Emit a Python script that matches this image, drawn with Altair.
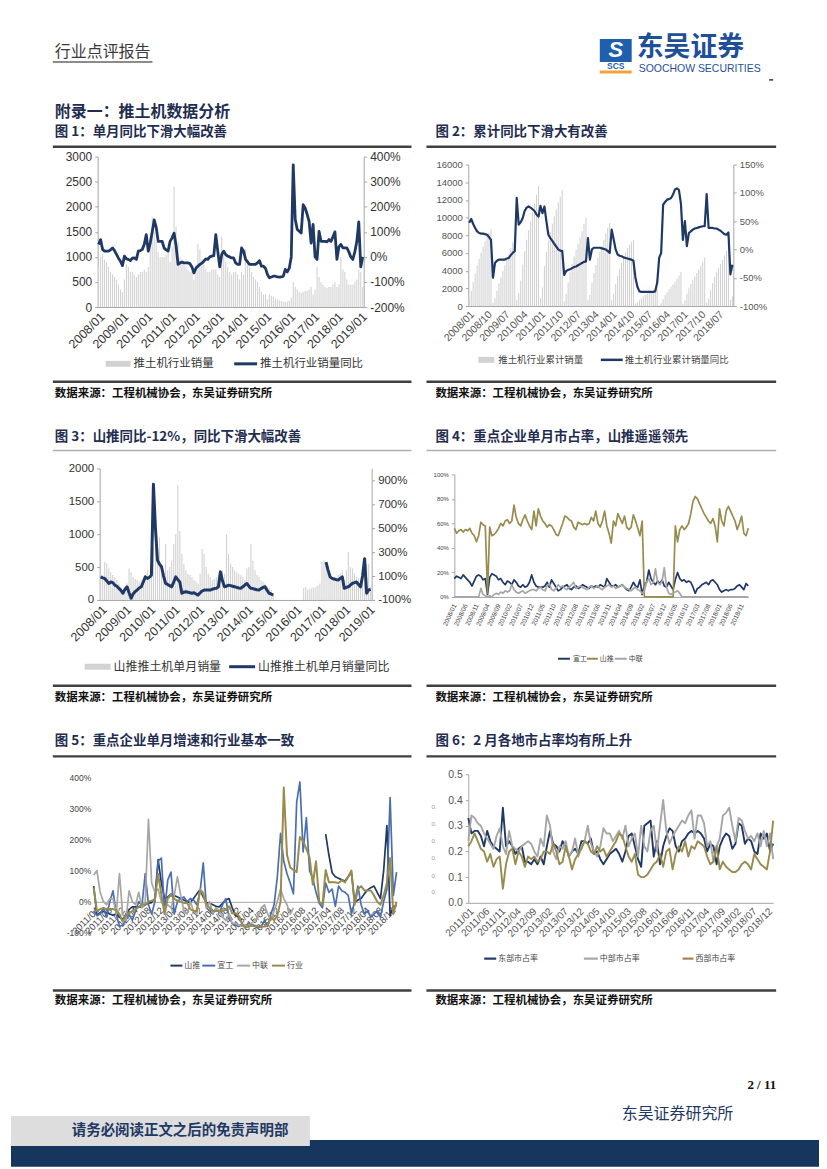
import altair as alt
import pandas as pd

CJK = "Noto Sans CJK SC"
LAT = "Liberation Sans"
NAVY = "#1f3864"
TITLE_C = "#1f2d50"
BAR_G = "#d2d2d2"
LINE_G = "#a6a6a6"
OLIVE = "#988b4d"
BLUE = "#4a6fae"
AX = "#a6a6a6"


def mrange(y0, m0, y1, m1):
    out = []
    y, m = y0, m0
    while (y, m) <= (y1, m1):
        out.append("%d/%02d" % (y, m))
        m += 1
        if m > 12:
            m, y = 1, y + 1
    return out


MONTHS_A = mrange(2008, 1, 2019, 2)   # charts 1-4
MONTHS_B = mrange(2011, 4, 2019, 2)   # chart 5
MONTHS_C = mrange(2011, 1, 2019, 2)   # chart 6

TICKS_1 = ["2008/01", "2009/01", "2010/01", "2011/01", "2012/01", "2013/01",
           "2014/01", "2015/01", "2016/01", "2017/01", "2018/01", "2019/01"]
TICKS_2 = ["2008/01", "2008/10", "2009/07", "2010/04", "2011/01", "2011/10",
           "2012/07", "2013/04", "2014/01", "2014/10", "2015/07", "2016/04",
           "2017/01", "2017/10", "2018/07"]
TICKS_4 = ["2008/01", "2008/06", "2008/11", "2009/04", "2009/09", "2010/02",
           "2010/07", "2010/12", "2011/05", "2011/10", "2012/03", "2012/08",
           "2013/01", "2013/06", "2013/11", "2014/04", "2014/09", "2015/02",
           "2015/07", "2015/12", "2016/05", "2016/10", "2017/03", "2017/08",
           "2018/01", "2018/06", "2018/11"]
TICKS_5 = ["2011/04", "2011/08", "2011/12", "2012/04", "2012/08", "2012/12",
           "2013/04", "2013/08", "2013/12", "2014/04", "2014/08", "2014/12",
           "2015/04", "2015/08", "2015/12", "2016/04", "2016/08", "2016/12",
           "2017/04", "2017/08", "2017/12", "2018/04", "2018/08", "2018/12"]
TICKS_6 = ["2011/01", "2011/06", "2011/11", "2012/04", "2012/09", "2013/02",
           "2013/07", "2013/12", "2014/05", "2014/10", "2015/03", "2015/08",
           "2016/01", "2016/06", "2016/11", "2017/04", "2017/09", "2018/02",
           "2018/07", "2018/12"]

# ---- chart 1: industry monthly sales and YoY (%)
SALES_1 = [800, 1000, 1050, 950, 900, 800, 700, 650, 600, 550, 450, 350,
           300, 550, 850, 800, 700, 700, 650, 600, 650, 700, 700, 750,
           700, 800, 1400, 1800, 1500, 1300, 1100, 1000, 1000, 1000, 1050, 1100,
           900, 1200, 2400, 1600, 1300, 1000, 900, 850, 800, 750, 700, 750,
           550, 850, 1250, 1150, 950, 850, 750, 700, 700, 750, 750, 750,
           650, 600, 1400, 1100, 900, 800, 700, 650, 700, 700, 650, 550,
           700, 650, 1150, 900, 800, 700, 600, 550, 500, 400, 300, 250,
           250, 150, 250, 220, 200, 170, 150, 130, 120, 110, 100, 110,
           130, 180, 500, 400, 350, 300, 280, 300, 320, 330, 350, 400,
           250, 350, 800, 600, 500, 450, 400, 380, 400, 400, 450, 500,
           400, 450, 1000, 750, 700, 550, 450, 450, 450, 500, 550, 750,
           700, 400]
YOY_1 = [49, 69, 30, 23, 23, 23, 28, 36, 25, 10, -5, -17,
         -35, 3, -8, -10, -15, -5, -4, -10, 23, 25, 30, 50,
         89, 23, 55, 100, 148, 118, 62, 62, 62, 35, 28, 23,
         62, 76, 95, 45, -30, -24, -20, -24, -24, -24, -27, -40,
         -64, -45, -37, -30, -25, -17, -8, -10, 0, 3, 5, 89,
         23, -40, 10, 23, 9, 3, 0, -4, -4, -24, -30, -30,
         36, 23, -10, -20, -30, -30, -30, -30, -24, -15, -37, -37,
         -45, -70, -83, -80, -77, -77, -80, -81, -80, -77, -50, -60,
         -45, 0, 367, 150, 110, 102, 95, 208, 195, 170, 142, 55,
         130, 0, -10, 102, 62, 62, 62, 60, 69, 62, 80, 100,
         -10, 40, 50, 36, 36, 36, 20, 0, -10, 20, 60, 140,
         -40, 0]

# ---- chart 2: cumulative sales and cumulative YoY (%)
CUM_2 = [700, 1700, 2700, 3650, 4550, 5350, 6050, 6700, 7300, 7850, 8300, 8700,
         350, 900, 1750, 2550, 3250, 3950, 4600, 5200, 5850, 6550, 7250, 8000,
         700, 1500, 2900, 4700, 6200, 7500, 8600, 9600, 10600, 11600, 12600, 13600,
         900, 2100, 4500, 6100, 7400, 8400, 9300, 10150, 10950, 11700, 12400, 13150,
         550, 1400, 2650, 3800, 4750, 5600, 6350, 7050, 7750, 8500, 9250, 10000,
         650, 1250, 2650, 3750, 4650, 5450, 6150, 6800, 7500, 8200, 8850, 9400,
         700, 1350, 2500, 3400, 4200, 4900, 5500, 6050, 6550, 6950, 7250, 7500,
         250, 400, 650, 870, 1070, 1240, 1390, 1520, 1640, 1750, 1850, 1960,
         130, 310, 810, 1210, 1560, 1860, 2140, 2440, 2760, 3090, 3440, 3840,
         250, 600, 1400, 2000, 2500, 2950, 3350, 3730, 4130, 4530, 4980, 5480,
         400, 850, 1850, 2600, 3300, 3850, 4300, 4750, 5200, 5700, 6250, 7000,
         700, 1100]
YOY_2 = [47, 54, 45, 38, 32, 29, 28, 28, 27, 26, 22, 17,
         -50, -24, -20, -18, -18, -18, -18, -16, -15, -10, -6, -3,
         91, 44, 48, 55, 68, 74, 76, 74, 71, 68, 62, 58,
         77, 64, 76, 50, 26, 20, 15, 10, 5, 0, -2, -3,
         -45, -38, -36, -35, -33, -31, -30, -28, -26, -24, -22, -21,
         20, -18, 0, 3, 3, 3, 3, 2, 1, 0, -3, -6,
         35, 18, 0, -9, -11, -12, -14, -15, -16, -17, -18, -20,
         -50, -66, -74, -75, -75, -75, -75, -75, -75, -75, -74, -59,
         -15, -6, 79, 84, 88, 89, 91, 97, 106, 108, 105, 81,
         17, 50, 6, 29, 32, 35, 37, 38, 39, 40, 41, 41,
         98, 38, 38, 38, 37, 37, 35, 33, 30, 27, 26, 30,
         -44, -27]

# ---- chart 3: Shantui monthly sales and YoY (%)
SALES_3 = ([400, 380, 580, 560, 480, 420, 380, 340, 300, 250, 200, 120,
            150, 250, 480, 420, 350, 320, 300, 280, 300, 320, 380, 450,
            350, 500, 800, 850, 700, 950, 500, 450, 850, 450, 500, 600,
            850, 1000, 1750, 1050, 700, 550, 450, 400, 380, 350, 300, 280,
            250, 400, 780, 700, 500, 400, 350, 300, 320, 350, 380, 420,
            450, 400, 1000, 700, 550, 500, 450, 420, 400, 380, 350, 300,
            480, 500, 850, 600, 450, 380, 350, 300, 280, 250, 200, 180,
            150, 80] + [None] * 14 +
           [180, 200, 160, 170, 180, 190, 200, 220,
            250, 580, 600, 520, 400, 350, 330, 300, 350, 380, 400, 450,
            300, 450, 730, 500, 480, 400, 350, 330, 300, 350, 450, 550,
            550, 200])
YOY_3 = ([93, 85, 80, 60, 38, 50, 45, 24, 15, -3, -20, -44,
          -10, 10, -40, -86, -50, -30, -17, 0, 10, 50, 93, 80,
          90, 107, 867, 500, 231, 200, 176, 100, 38, 30, 20, 10,
          50, 93, 70, 50, -44, -35, -31, -35, -40, -44, -40, -50,
          -59, -40, -25, -17, -17, -17, -17, -10, -5, -3, 10, 135,
          60, 10, 15, 24, 20, 15, 10, 5, 0, -3, 10, 25,
          38, 15, -3, -5, -10, -15, -17, -5, 5, 10, -20, -44,
          -50, -59] + [None] * 25 +
         [217, 150, 93, 80, 75, 70, 66, 80, 93,
          -3, 5, 10, 25, 38, 45, 50, 30, 10, 100, 245, -44,
          -17, -12])

# ---- chart 4: market share (%) of key companies
XG_4 = [15, 17, 16, 15, 18, 16, 14, 12, 9, 13, 17, 18,
        17, 14, 15, 2, 16, 19, 18, 17, 14, 15, 12, 10,
        13, 12, 10, 14, 12, 9, 8, 10, 8, 9, 12, 18,
        12, 9, 8, 8, 8, 9, 12, 8, 14, 11, 8, 5,
        6, 8, 9, 10, 7, 6, 8, 9, 7, 8, 10, 9,
        8, 7, 9, 8, 9, 8, 10, 9, 8, 15, 12, 9,
        9, 10, 8, 9, 10, 8, 6, 5, 8, 12, 9, 8,
        14, 2, 10, 12, 22, 15, 12, 10, 13, 11, 14, 9,
        8, 12, 9, 6, 14, 20, 15, 13, 14, 12, 13, 12,
        8, 3, 7, 8, 10, 11, 12, 10, 13, 14, 12, 10,
        6, 4, 5, 6, 5, 6, 6, 7, 9, 10, 8, 6,
        11, 9]
SH_4 = [56, 52, 54, 55, 53, 55, 54, 56, 52, 50, 45, 50,
        61, 59, 58, 3, 57, 50, 51, 53, 56, 60, 58, 62,
        63, 60, 62, 75, 65, 60, 58, 63, 67, 62, 58, 55,
        70, 58, 72, 66, 62, 60, 57, 59, 58, 55, 51, 50,
        55, 60, 66, 65, 63, 62, 57, 55, 61, 60, 59, 60,
        59, 60, 65, 62, 70, 60, 57, 62, 70, 58, 52, 44,
        62, 58, 68, 64, 60, 66, 57, 55, 57, 67, 62, 56,
        50, 62, 0, 0, 0, 0, 0, 0, 0, 0, 0, 0,
        0, 0, 0, 0, 58, 45, 55, 58, 55, 57, 60, 68,
        78, 82, 80, 76, 72, 68, 65, 62, 60, 64, 58, 45,
        72, 62, 58, 70, 74, 70, 66, 62, 55, 60, 66, 52,
        50, 56]
ZL_4 = [0, 0, 0, 0, 0, 0, 0, 0, 0, 0, 0, 0,
        7, 2, 1, 0, 1, 0, 2, 3, 2, 4, 3, 5,
        4, 5, 10, 6, 4, 3, 4, 5, 3, 4, 5, 6,
        6, 5, 7, 8, 6, 5, 9, 11, 6, 5, 7, 10,
        8, 9, 7, 6, 8, 10, 12, 7, 8, 9, 8, 7,
        6, 8, 9, 7, 8, 9, 7, 6, 8, 9, 10, 8,
        9, 7, 8, 9, 10, 8, 7, 6, 5, 7, 8, 6,
        5, 3, 5, 12, 15, 10, 12, 23, 12, 10, 13, 24,
        8, 3, 2, 3, 4, 5, 3, 0, 0, 0, 0, 0,
        0, 0, 0, 0, 0, 0, 0, 0, 0, 0, 0, 0,
        0, 0, 0, 0, 0, 0, 0, 0, 0, 0, 0, 0,
        0, 0]

# ---- chart 5: monthly growth (%) of key companies vs industry
SH_5 = ([50, -44, -35, -31, -35, -40, -44, -40, -50,
         -59, -40, -25, -17, -17, -17, -17, -10, -5, -3, 10, 135,
         60, 10, 15, 24, 20, 15, 10, 5, 0, -3, 10, 25,
         38, 15, -3, -5, -10, -15, -17, -5, 5, 10, -20, -44,
         -50, -59] + [None] * 25 +
        [217, 150, 93, 80, 75, 70, 66, 80, 93,
         -3, 5, 10, 25, 38, 45, 50, 30, 10, 100, 245, -44,
         -17, -12])
XG_5 = [-30, -45, -40, -20, -50, 0, 35, -40, -80, -75, -60, -40,
        -60, -30, 0, -10, 90, -10, -40, 0, 130, 140, -30, 70,
        95, -40, 0, 10, 15, 0, 10, 5, -10, 30, 125, -20,
        -30, -40, -20, -35, -10, 10, -50, -70, -75, -80, -75, -80,
        -70, -75, -80, -85, -80, -60, -80, -40, -10, 80, 220, 130,
        90, 60, 25, 320, 385, 160, 270, 100, 75, 30, -5, -20,
        60, 30, 40, -15, 50, 35, 30, 20, -40, 0, 50, -10,
        -40, -30, -50, -40, -30, -50, 0, 40, 335, 20, 95]
ZL_5 = ([85, 100, 30, 0, -10, 10, 10, -40, 90, -40, -60, 35,
         0, -10, 30, -20, 0, 265, 60, 30, 40, 0, -20, -10,
         -20, 20, 80, 20, -30, -40, 0, -30, -40, 40, 30, -20,
         0, -40, -20, -30, -50, -60, -40, -70, -70, -75, -80, -75,
         -80, -70, -60, -50, -20, -10, -40, -60, -30, 0, 40, 10,
         -10, -40, -20] + [None] * 32)
IND_5 = [45, -30, -24, -20, -24, -24, -24, -27, -40,
         -64, -45, -37, -30, -25, -17, -8, -10, 0, 3, 5, 89,
         23, -40, 10, 23, 9, 3, 0, -4, -4, -24, -30, -30,
         36, 23, -10, -20, -30, -30, -30, -30, -24, -15, -37, -37,
         -45, -70, -83, -80, -77, -77, -80, -81, -80, -77, -50, -60,
         -45, 0, 367, 150, 110, 102, 95, 208, 195, 170, 142, 55,
         130, 0, -10, 102, 62, 62, 62, 60, 69, 62, 80, 100,
         -10, 40, 50, 36, 36, 36, 20, 0, -10, 20, 60, 140,
         -40, 0]

# ---- chart 6: regional market shares
EAST_6 = [0.33, 0.27, 0.28, 0.28, 0.26, 0.22, 0.28, 0.24, 0.22, 0.21, 0.20, 0.37,
          0.22, 0.24, 0.22, 0.19, 0.21, 0.22, 0.16, 0.16, 0.15, 0.17, 0.15, 0.18,
          0.15, 0.22, 0.28, 0.23, 0.22, 0.20, 0.24, 0.22, 0.18, 0.20, 0.21, 0.19,
          0.24, 0.24, 0.23, 0.25, 0.19, 0.20, 0.17, 0.15, 0.17, 0.19, 0.20, 0.21,
          0.19, 0.16, 0.20, 0.26, 0.27, 0.22, 0.17, 0.14, 0.30, 0.31, 0.32, 0.18,
          0.24, 0.15, 0.22, 0.26, 0.29, 0.28, 0.22, 0.20, 0.24, 0.25, 0.27, 0.28,
          0.27, 0.28, 0.27, 0.25, 0.20, 0.23, 0.22, 0.15, 0.22, 0.25, 0.27, 0.26,
          0.21, 0.23, 0.31, 0.30, 0.23, 0.25, 0.24, 0.20, 0.19, 0.27, 0.25, 0.27,
          0.20, 0.23]
MID_6 = [0.24, 0.34, 0.33, 0.31, 0.30, 0.27, 0.25, 0.23, 0.21, 0.26, 0.29, 0.22,
         0.19, 0.28, 0.22, 0.21, 0.20, 0.22, 0.23, 0.24, 0.23, 0.20, 0.18, 0.25,
         0.22, 0.34, 0.30, 0.20, 0.17, 0.22, 0.21, 0.24, 0.18, 0.20, 0.25, 0.18,
         0.22, 0.24, 0.30, 0.23, 0.20, 0.18, 0.22, 0.29, 0.27, 0.27, 0.24, 0.26,
         0.28, 0.25, 0.30, 0.22, 0.25, 0.27, 0.18, 0.30, 0.22, 0.20, 0.28, 0.30,
         0.20, 0.30, 0.40, 0.28, 0.23, 0.26, 0.28, 0.30, 0.32, 0.31, 0.34, 0.36,
         0.25, 0.34, 0.34, 0.31, 0.22, 0.24, 0.16, 0.22, 0.25, 0.34, 0.35, 0.37,
         0.30, 0.24, 0.33, 0.32, 0.28, 0.25, 0.26, 0.24, 0.27, 0.22, 0.28, 0.22,
         0.27, 0.17]
WEST_6 = [0.22, 0.24, 0.27, 0.24, 0.21, 0.20, 0.16, 0.19, 0.14, 0.17, 0.18, 0.055,
          0.15, 0.20, 0.21, 0.15, 0.20, 0.18, 0.14, 0.18, 0.17, 0.18, 0.16, 0.17,
          0.20, 0.20, 0.19, 0.23, 0.20, 0.15, 0.16, 0.22, 0.18, 0.13, 0.17, 0.19,
          0.21, 0.24, 0.23, 0.20, 0.19, 0.22, 0.20, 0.21, 0.18, 0.20, 0.22, 0.24,
          0.27, 0.26, 0.22, 0.18, 0.16, 0.19, 0.11, 0.10, 0.10, 0.11, 0.13, 0.15,
          0.16, 0.19, 0.14, 0.20, 0.21, 0.13, 0.19, 0.22, 0.20, 0.24, 0.18, 0.22,
          0.21, 0.24, 0.23, 0.22, 0.18, 0.15, 0.16, 0.22, 0.13, 0.16, 0.14, 0.13,
          0.12, 0.12, 0.13, 0.15, 0.16, 0.15, 0.13, 0.19, 0.17, 0.15, 0.14, 0.13,
          0.20, 0.32]

for arr in (SALES_1, YOY_1, CUM_2, YOY_2, SALES_3, YOY_3, XG_4, SH_4, ZL_4):
    assert len(arr) == len(MONTHS_A), len(arr)
for arr in (SH_5, XG_5, ZL_5, IND_5):
    assert len(arr) == len(MONTHS_B), len(arr)
for arr in (EAST_6, MID_6, WEST_6):
    assert len(arr) == len(MONTHS_C), len(arr)

SRC = "数据来源：工程机械协会，东吴证券研究所"
DUMMY = pd.DataFrame({"a": [0]})


def segments(months, vals):
    rows, seg, prev = [], 0, False
    for m, v in zip(months, vals):
        if v is None:
            if prev:
                seg += 1
            prev = False
        else:
            rows.append({"m": m, "v": v, "seg": seg})
            prev = True
    return pd.DataFrame(rows)


def xaxis(ticks, size, color, angle=-45, offset=0, pad=3):
    kw = dict(values=ticks, labelAngle=angle, ticks=False, title=None,
              labelFontSize=size, labelColor=color, labelFont=LAT,
              domainColor=AX, labelOverlap=False, labelPadding=pad)
    if offset:
        kw["offset"] = offset
    return alt.Axis(**kw)


def yaxis(vals, size, color, orient, expr=None, fmt=None, domain=True, ticks=True):
    kw = dict(values=vals, orient=orient, title=None, labelFontSize=size,
              labelColor=color, labelFont=LAT, domain=domain, domainColor=AX,
              ticks=ticks, tickColor=AX, tickSize=3, labelPadding=3)
    if expr:
        kw["labelExpr"] = expr
    if fmt:
        kw["format"] = fmt
    return alt.Axis(**kw)


def dual(months, bars, line, ticks, bdom, bvals, ldom, lvals, w, h, lw, fs, lc, fsy):
    x = alt.X("m:O", sort=None,
              scale=alt.Scale(domain=months, paddingInner=0.45, paddingOuter=0.2),
              axis=xaxis(ticks, fs, lc))
    bdf = pd.DataFrame({"m": months, "v": bars}).dropna()
    bar = alt.Chart(bdf).mark_bar(color=BAR_G).encode(
        x=x,
        y=alt.Y("v:Q", scale=alt.Scale(domain=bdom, nice=False),
                axis=yaxis(bvals, fsy, lc, "left", fmt="d")))
    ln = alt.Chart(segments(months, line)).mark_line(
        color=NAVY, strokeWidth=lw, strokeJoin="round").encode(
        x=x,
        y=alt.Y("v:Q", scale=alt.Scale(domain=ldom, nice=False),
                axis=yaxis(lvals, fsy, lc, "right", expr="datum.value + '%'")),
        detail="seg:N")
    return alt.layer(bar, ln).resolve_scale(y="independent").properties(width=w, height=h)


def multi(months, series, ticks, ydom, yvals, w, h, xfs, yfs, lc, angle=-45,
          yexpr=None, yfmt=None, xoffset=0, ydomain=True, yticks=True, xpad=3):
    x = alt.X("m:O", sort=None,
              scale=alt.Scale(type="point", domain=months, padding=0),
              axis=xaxis(ticks, xfs, lc, angle, xoffset, xpad))
    y = alt.Y("v:Q", scale=alt.Scale(domain=ydom, nice=False),
              axis=yaxis(yvals, yfs, lc, "left", yexpr, yfmt, ydomain, yticks))
    layers = [alt.Chart(segments(months, vals)).mark_line(
        color=c, strokeWidth=sw, strokeJoin="round").encode(x=x, y=y, detail="seg:N")
        for vals, c, sw in series]
    return alt.layer(*layers).properties(width=w, height=h)


def spacer(w, h):
    return alt.Chart(DUMMY).mark_point(opacity=0).encode(
        x=alt.value(0), y=alt.value(0)).properties(width=w, height=h)


# page-coordinate decoration helpers (chart origin sits at page 8,8)
def T(text, x, y, size, color="#000000", weight="normal", font=CJK, align="left", style="normal"):
    return alt.Chart(DUMMY).mark_text(
        text=text, font=font, fontSize=size, fontWeight=weight, color=color,
        align=align, baseline="middle", fontStyle=style).encode(
        x=alt.value(x - 8), y=alt.value(y - 8))


def R(x1, x2, y, color, sw):
    return alt.Chart(DUMMY).mark_rule(color=color, strokeWidth=sw).encode(
        x=alt.value(x1 - 8), x2=alt.value(x2 - 8), y=alt.value(y - 8))


def B(x1, x2, y1, y2, color):
    return alt.Chart(DUMMY).mark_rect(color=color).encode(
        x=alt.value(x1 - 8), x2=alt.value(x2 - 8), y=alt.value(y1 - 8), y2=alt.value(y2 - 8))


DARK_RULE = "#404040"
deco_items = [
    T("行业点评报告", 52, 50, 16, "#3a3a3a"),
    R(50, 150, 60, "#8c8c8c", 2),
    B(599, 631, 37, 60, "#1f5fae"),
    T("S", 615, 48.5, 22, "#ffffff", "bold", LAT, "center", "italic"),
    T("SCS", 615, 64.5, 8.5, "#1f5fae", "bold", LAT, "center"),
    B(599, 631, 68.5, 71.5, "#f3a33a"),
    T("东吴证券", 636, 46.5, 27, "#1f4f99", "bold"),
    T("SOOCHOW SECURITIES", 638, 67.5, 10.5, "#1f4f99", "normal", LAT),
    R(769, 773, 78, "#333333", 1.5),
    T("附录一：推土机数据分析", 52, 110, 16, TITLE_C, "bold"),
    # row 1
    T("图 1：单月同比下滑大幅改善", 52, 130, 13.5, TITLE_C, "bold"),
    T("图 2：累计同比下滑大有改善", 434, 130, 13.5, TITLE_C, "bold"),
    R(50, 410, 145, DARK_RULE, 2.5), R(425, 776, 145, DARK_RULE, 2.5),
    R(50, 410, 381, DARK_RULE, 2.5), R(425, 776, 381, DARK_RULE, 2.5),
    T(SRC, 52, 393, 11.5, "#111111", "bold"), T(SRC, 434, 393, 11.5, "#111111", "bold"),
    # row 2
    T("图 3：山推同比-12%，同比下滑大幅改善", 52, 436, 13.5, TITLE_C, "bold"),
    T("图 4：重点企业单月市占率，山推遥遥领先", 434, 436, 13.5, TITLE_C, "bold"),
    R(50, 410, 450, "#b0b0b0", 1.5), R(425, 776, 450, "#b0b0b0", 1.5),
    R(50, 410, 686, DARK_RULE, 2.5), R(425, 776, 686, DARK_RULE, 2.5),
    T(SRC, 52, 698, 11.5, "#111111", "bold"), T(SRC, 434, 698, 11.5, "#111111", "bold"),
    # row 3
    T("图 5：重点企业单月增速和行业基本一致", 52, 742, 13.5, TITLE_C, "bold"),
    T("图 6：2 月各地市占率均有所上升", 434, 742, 13.5, TITLE_C, "bold"),
    R(50, 410, 757, DARK_RULE, 2.5), R(425, 776, 757, DARK_RULE, 2.5),
    R(50, 410, 992, DARK_RULE, 2.5), R(425, 776, 992, DARK_RULE, 2.5),
    T(SRC, 52, 1003, 11.5, "#111111", "bold"), T(SRC, 434, 1003, 11.5, "#111111", "bold"),
    # legends
    B(103, 128, 360, 366, BAR_G), T("推土机行业销量", 131, 363, 11.5, "#333333"),
    R(232, 255, 363, NAVY, 3), T("推土机行业销量同比", 258, 363, 11.5, "#333333"),
    B(477, 493, 356, 362, BAR_G), T("推土机行业累计销量", 497, 359, 9.5, "#444444"),
    R(600, 622, 359, NAVY, 2.5), T("推土机行业累计销量同比", 624, 359, 9.5, "#444444"),
    B(82, 108, 664, 670, BAR_G), T("山推推土机单月销量", 111, 667, 12, "#333333"),
    R(227, 253, 667, NAVY, 3), T("山推推土机单月销量同比", 256, 667, 12, "#333333"),
    R(557, 569, 659, NAVY, 2), T("宣工", 572, 659, 7, "#444444"),
    R(586, 597, 659, OLIVE, 2), T("山推", 599, 659, 7, "#444444"),
    R(614, 626, 659, LINE_G, 2), T("中联", 628, 659, 7, "#444444"),
    R(168, 180, 967, NAVY, 2), T("山推", 182, 967, 8, "#444444"),
    R(200, 213, 967, BLUE, 2), T("宣工", 215, 967, 8, "#444444"),
    R(235, 248, 967, LINE_G, 2), T("中联", 250, 967, 8, "#444444"),
    R(270, 283, 967, OLIVE, 2), T("行业", 285, 967, 8, "#444444"),
    R(483, 495, 960, NAVY, 2.2), T("东部市占率", 497, 960, 8, "#444444"),
    R(583, 597, 960, LINE_G, 2.2), T("中部市占率", 599, 960, 8, "#444444"),
    R(682, 693, 960, OLIVE, 2.2), T("西部市占率", 695, 960, 8, "#444444"),
]
deco_items += [T("0.", 430, yy, 6, "#9a9a9a", "normal", LAT) for yy in (808, 825, 842, 859, 877, 893)]
deco_items += [
    # footer
    T("2 / 11", 776, 1087, 13, "#111111", "bold", "Liberation Serif", "right"),
    T("东吴证券研究所", 733, 1116, 16, "#1f3864", "normal", CJK, "right"),
    B(8, 819, 1142, 1169, "#17365d"),
    B(8, 308, 1118, 1148, "#dddddd"),
    T("请务必阅读正文之后的免责声明部", 69, 1133, 14.5, "#1f3864", "bold"),
]
deco = alt.layer(*deco_items).properties(width=811, height=147)

c1 = dual(MONTHS_A, SALES_1, YOY_1, TICKS_1, [0, 3000], [0, 500, 1000, 1500, 2000, 2500, 3000],
          [-200, 400], [-200, -100, 0, 100, 200, 300, 400], 267, 151, 2.8, 12.5, "#333333", 12)
c2 = dual(MONTHS_A, CUM_2, YOY_2, TICKS_2, [0, 16000],
          [0, 2000, 4000, 6000, 8000, 10000, 12000, 14000, 16000],
          [-100, 150], [-100, -50, 0, 50, 100, 150], 266, 142, 2.2, 10.5, "#555555", 9.5)
c3 = dual(MONTHS_A, SALES_3, YOY_3, TICKS_1, [0, 2000], [0, 500, 1000, 1500, 2000],
          [-100, 1000], [-100, 100, 300, 500, 700, 900], 273, 132, 3.0, 12.5, "#333333", 11.5)
c4 = multi(MONTHS_A, [(XG_4, NAVY, 1.7), (SH_4, OLIVE, 1.7), (ZL_4, LINE_G, 1.7)],
           TICKS_4, [0, 100], [0, 20, 40, 60, 80, 100], 295, 123, 6.5, 6, "#444444",
           angle=-65, yexpr="datum.value + '%'", xpad=7)
c5 = multi(MONTHS_B, [(SH_5, NAVY, 1.7), (XG_5, BLUE, 1.7), (ZL_5, LINE_G, 1.7), (IND_5, OLIVE, 2.0)],
           TICKS_5, [-100, 400], [-100, 0, 100, 200, 300, 400], 304, 156, 9.5, 8.5, "#444444",
           yexpr="datum.value + '%'", xoffset=-31, ydomain=False, yticks=False)
c6 = multi(MONTHS_C, [(EAST_6, NAVY, 1.9), (MID_6, LINE_G, 1.9), (WEST_6, OLIVE, 1.9)],
           TICKS_6, [0, 0.5], [0, 0.1, 0.2, 0.3, 0.4, 0.5], 306, 129, 10, 10.5, "#555555",
           yfmt=".1f")


def col(offset, chart):
    return alt.vconcat(spacer(1, offset), chart, spacing=0, bounds="flush")


# with flush bounds a nested concat counts as zero-sized, so spacers carry full distances
row1 = alt.hconcat(spacer(87, 1), c1, spacer(105, 1), col(8, c2), spacing=0, bounds="flush")
row2 = alt.hconcat(spacer(89, 1), c3, spacer(83, 1), col(6, c4), spacing=0, bounds="flush")
row3 = alt.hconcat(spacer(83, 1), col(3, c5), spacer(376, 1), c6, spacing=0, bounds="flush")

chart = alt.vconcat(deco, row1, spacer(1, 313), row2, spacer(1, 307), row3,
                    spacing=0, bounds="flush").properties(padding=0)
chart = chart.configure_view(strokeWidth=0).configure_axis(grid=False)

chart.save("out.html", embed_options={"renderer": "svg", "actions": False})
